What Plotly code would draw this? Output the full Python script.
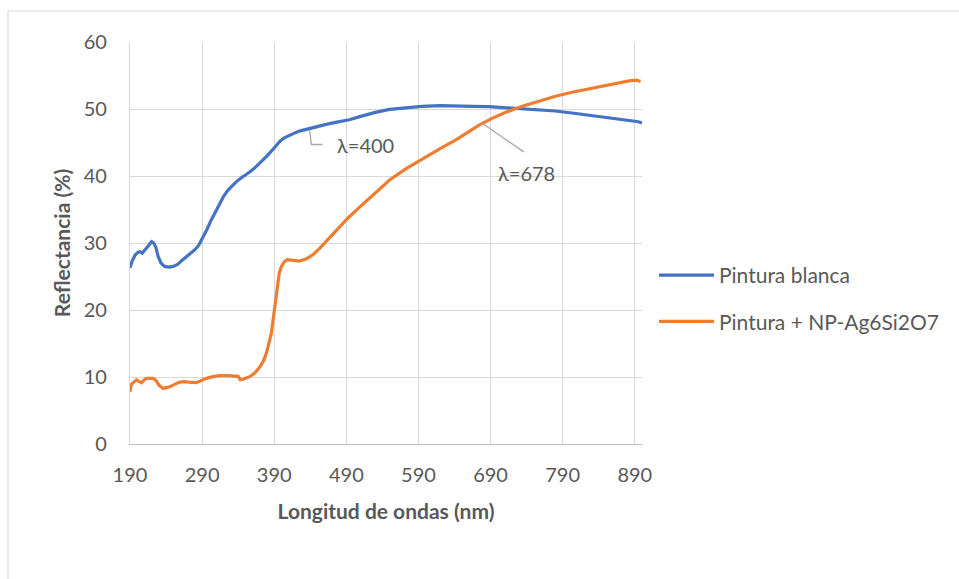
import plotly.graph_objects as go

# Pintura blanca
blanca_x = [190, 193, 197, 201, 204, 207, 211, 216, 220, 223, 226, 229, 233, 238, 244, 250, 256, 262,
            269, 275, 280, 285, 289, 293, 297, 302, 308, 314, 320, 326, 332, 338, 344, 350, 356, 362,
            368, 374, 380, 386, 392, 398, 404, 411, 418, 425, 432, 439, 450, 462, 475, 494, 510, 530,
            550, 570, 595, 620, 642, 665, 688, 710, 734, 757, 780, 803, 826, 850, 870, 885, 895, 900]
blanca_y = [26.3, 27.3, 28.2, 28.6, 28.7, 28.5, 29.0, 29.6, 30.2, 30.0, 29.3, 28.0, 27.0, 26.5, 26.4,
            26.5, 26.8, 27.4, 28.0, 28.6, 29.0, 29.6, 30.4, 31.3, 32.1, 33.3, 34.6, 35.8, 37.0, 37.9,
            38.6, 39.2, 39.7, 40.1, 40.6, 41.1, 41.7, 42.3, 43.0, 43.7, 44.5, 45.2, 45.7, 46.1, 46.4,
            46.7, 46.9, 47.1, 47.4, 47.7, 48.0, 48.4, 48.9, 49.5, 49.95, 50.2, 50.4, 50.5, 50.5, 50.4,
            50.35, 50.2, 50.1, 49.85, 49.7, 49.4, 49.1, 48.8, 48.5, 48.3, 48.1, 47.9]

# Pintura + NP-Ag6Si2O7
np_x = [190, 192, 195, 199, 203, 206, 210, 213, 218, 222, 226, 230, 236, 241, 245, 252, 258, 264, 270,
        276, 282, 289, 296, 305, 314, 325, 337, 340, 343, 348, 356, 363, 370, 375, 379, 383, 386, 389,
        391, 393, 395, 397, 400, 404, 408, 415, 425, 434, 443, 453, 465, 478, 492, 510, 530, 550, 573,
        596, 620, 642, 658, 674, 692, 711, 734, 757, 780, 803, 826, 849, 866, 882, 893, 898]
np_y = [7.8, 8.9, 9.2, 9.55, 9.3, 9.15, 9.6, 9.8, 9.8, 9.8, 9.5, 8.8, 8.3, 8.4, 8.55, 8.9, 9.2, 9.3,
        9.3, 9.2, 9.15, 9.5, 9.8, 10.05, 10.2, 10.2, 10.2, 10.1, 9.6, 9.7, 10.05, 10.6, 11.5, 12.4,
        13.5, 15.0, 16.5, 19.0, 20.5, 22.5, 24.0, 25.5, 26.5, 27.2, 27.5, 27.4, 27.3, 27.6, 28.2, 29.2,
        30.6, 32.2, 33.7, 35.5, 37.5, 39.4, 41.1, 42.6, 44.1, 45.4, 46.5, 47.6, 48.6, 49.5, 50.4, 51.2,
        51.9, 52.5, 53.0, 53.6, 53.9, 54.2, 54.3, 54.1]

x_ticks = [190, 290, 390, 490, 590, 690, 790, 890]
y_ticks = [0, 10, 20, 30, 40, 50, 60]

FONT = "Lato"
GREY = "#595959"

fig = go.Figure()
fig.add_trace(go.Scatter(x=blanca_x, y=blanca_y, mode="lines", name="Pintura blanca",
                         legendgroup="a", line=dict(color="#4472C4", width=3.2)))
fig.add_trace(go.Scatter(x=np_x, y=np_y, mode="lines", name="Pintura + NP-Ag6Si2O7",
                         legendgroup="b", line=dict(color="#ED7D31", width=3.2)))

# leader line for λ=400 label (elbow)
fig.add_shape(type="path", path="M 439,46.9 L 441.5,44.7 L 457,44.7", xref="x", yref="y",
              line=dict(color="#A6A6A6", width=1.3))
fig.add_annotation(x=517, y=44.6, xref="x", yref="y", text="λ=400", showarrow=False,
                   font=dict(family=FONT, size=20, color=GREY))
# leader line for λ=678 label
fig.add_shape(type="line", x0=678, y0=47.9, x1=736, y1=43.6, xref="x", yref="y",
              line=dict(color="#A6A6A6", width=1.3))
fig.add_annotation(x=740.5, y=40.5, xref="x", yref="y", text="λ=678", showarrow=False,
                   font=dict(family=FONT, size=20, color=GREY))

# outer chart border
fig.add_shape(type="rect", xref="paper", yref="paper",
              x0=(8 - 130) / 512, x1=(970 - 130) / 512,
              y0=(444 - 590) / 402, y1=(444 - 11) / 402,
              line=dict(color="#D9D9D9", width=1.2), layer="below")

fig.update_layout(
    width=959, height=579,
    margin=dict(l=130, r=317, t=42, b=135),
    paper_bgcolor="white", plot_bgcolor="white",
    font=dict(family=FONT, size=20, color=GREY),
    legend=dict(x=(654 - 130) / 512, y=(444 - 255) / 402, xanchor="left", yanchor="top",
                font=dict(family=FONT, size=21, color=GREY), itemwidth=55,
                tracegroupgap=16, bgcolor="rgba(0,0,0,0)"),
    showlegend=True,
)
fig.update_xaxes(range=[190, 900], tickvals=x_ticks, ticktext=[str(v) for v in x_ticks],
                 showgrid=True, gridcolor="#D9D9D9", gridwidth=1.3,
                 showline=True, linecolor="#BFBFBF", linewidth=1.3,
                 zeroline=False, ticks="", ticklabelstandoff=13,
                 title=dict(text="<b>Longitud de ondas (nm)</b>", standoff=19,
                            font=dict(family=FONT, size=21, color=GREY)))
fig.update_yaxes(range=[0, 60], tickvals=y_ticks, ticktext=[str(v) for v in y_ticks],
                 showgrid=True, gridcolor="#D9D9D9", gridwidth=1.3,
                 showline=True, linecolor="#D9D9D9", linewidth=1.3,
                 zeroline=False, ticks="", ticklabelstandoff=18,
                 title=dict(text="<b>Reflectancia (%)</b>", standoff=7,
                            font=dict(family=FONT, size=21, color=GREY)))

fig.write_html("out.html", config={"displayModeBar": False},
               post_script="document.body.style.margin='0px';")
